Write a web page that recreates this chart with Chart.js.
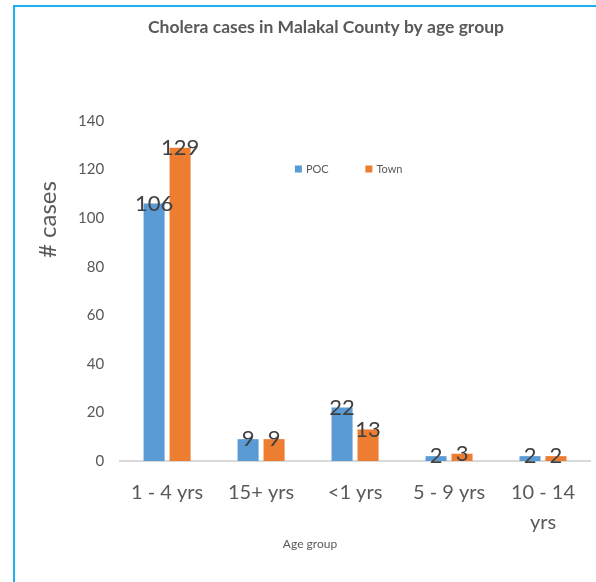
<!DOCTYPE html>
<html>
<head>
<meta charset="utf-8">
<script src="https://cdn.jsdelivr.net/npm/chart.js@4"></script>
<style>
  body { margin: 0; overflow: hidden; background: #fff; }
  #frame { position: absolute; left: 13px; top: 5px; width: 700px; height: 700px;
           border-top: 2px solid #1ab2f0; border-left: 2px solid #1ab2f0; }
  #wrap { position: absolute; left: 16px; top: 7px; width: 588px; height: 575px; }
</style>
</head>
<body>
<div id="frame"></div>
<div id="wrap"><canvas id="myChart"></canvas></div>
<script>
// age groups on the x axis (last one wraps onto two lines)
var ageGroups = ['1 - 4 yrs', '15+ yrs', '<1 yrs', '5 - 9 yrs', ['10 - 14', 'yrs']];
var pocCases = [106, 9, 22, 2, 2];
var townCases = [129, 9, 13, 3, 2];
var yTicks = [0, 20, 40, 60, 80, 100, 120, 140];

var fontName = 'Lato, "Open Sans", sans-serif';

// numbers above the bars
var barLabels = {
  id: 'barLabels',
  afterDatasetsDraw: function(chart) {
    var c = chart.ctx;
    c.save();
    c.font = '22px ' + fontName;
    c.fillStyle = '#404040';
    c.textAlign = 'center';
    c.textBaseline = 'middle';
    chart.data.datasets.forEach(function(ds, i) {
      chart.getDatasetMeta(i).data.forEach(function(bar, j) {
        c.fillText(ds.data[j], bar.x, bar.y);
      });
    });
    c.restore();
  }
};

// legend sitting inside the plot, y title up near the top, x title under the labels
var extras = {
  id: 'extras',
  afterDraw: function(chart) {
    var c = chart.ctx, a = chart.chartArea;
    c.save();
    var ly = a.top + 48;
    var pos = [0.372, 0.522];
    c.font = '11px ' + fontName;
    c.textBaseline = 'middle';
    c.textAlign = 'left';
    chart.data.datasets.forEach(function(ds, i) {
      var lx = a.left + pos[i] * (a.right - a.left);
      c.fillStyle = ds.backgroundColor;
      c.fillRect(lx, ly - 3.5, 7, 7);
      c.fillStyle = '#595959';
      c.fillText(ds.label, lx + 11, ly);
    });
    // x title
    c.textAlign = 'center';
    c.font = '12px ' + fontName;
    c.fillText('Age group', chart.width / 2, a.bottom + 83);
    // y title
    c.translate(a.left - 72, a.top + 0.29 * (a.bottom - a.top));
    c.rotate(-Math.PI / 2);
    c.font = '24px ' + fontName;
    c.fillText('# cases', 0, 0);
    c.restore();
  }
};

var ctx = document.getElementById('myChart').getContext('2d');
var myChart = new Chart(ctx, {
  type: 'bar',
  data: {
    labels: ageGroups,
    datasets: [{
      label: 'POC',
      data: pocCases,
      backgroundColor: '#5b9bd5'
    }, {
      label: 'Town',
      data: townCases,
      backgroundColor: '#ed7d31'
    }]
  },
  plugins: [barLabels, extras],
  options: {
    responsive: true,
    maintainAspectRatio: false,
    animation: false,
    categoryPercentage: 0.553,
    barPercentage: 0.81,
    layout: { padding: { left: 46, right: 14, bottom: 27 } },
    plugins: {
      legend: { display: false },
      tooltip: { enabled: false },
      title: {
        display: true,
        text: 'Cholera cases in Malakal County by age group',
        color: '#595959',
        font: { family: fontName, size: 17.5, weight: 'bold' },
        padding: { top: 10, bottom: 83 }
      }
    },
    scales: {
      x: {
        grid: { display: false, drawTicks: false },
        border: { color: '#d9d9d9', width: 2 },
        ticks: {
          color: '#595959',
          font: { family: fontName, size: 20, lineHeight: 1.5 },
          padding: 17,
          maxRotation: 0,
          autoSkip: false
        }
      },
      y: {
        min: 0,
        max: 140,
        grid: { display: false, drawTicks: false },
        border: { display: false },
        afterBuildTicks: function(scale) {
          scale.ticks = yTicks.map(function(v) { return { value: v }; });
        },
        ticks: {
          color: '#595959',
          font: { family: fontName, size: 15 },
          padding: 16
        }
      }
    }
  }
});
</script>
</body>
</html>
